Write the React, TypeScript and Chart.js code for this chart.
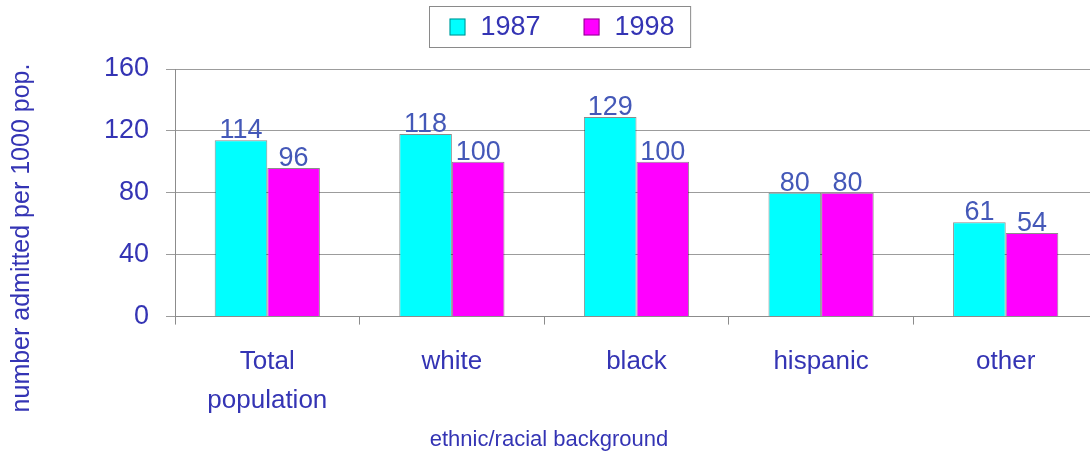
import React, { useEffect, useRef } from 'react';
import { Chart, registerables } from 'chart.js';

Chart.register(...registerables);

const categories: (string | string[])[] = [['Total', 'population'], 'white', 'black', 'hispanic', 'other'];
const seriesNames = ['1987', '1998'];
const values1987 = [114, 118, 129, 80, 61];
const values1998 = [96, 100, 100, 80, 54];
const yTicks = [0, 40, 80, 120, 160];
const xTitle = 'ethnic/racial background';
const yTitle = 'number admitted per 1000 pop.';

const FONT = "'Liberation Sans', Arial, Helvetica, sans-serif";
const TEXT_BLUE = '#3434b4';
const LABEL_BLUE = '#4458b8';
const CYAN = '#00ffff';
const MAGENTA = '#ff00ff';
const BAR_BORDER = 'rgba(0,0,0,0.45)';
const GRID = '#9c9c9c';

const valueLabels = {
  id: 'valueLabels',
  afterDatasetsDraw(chart: any) {
    const ctx = chart.ctx;
    ctx.save();
    ctx.font = `27px ${FONT}`;
    ctx.fillStyle = LABEL_BLUE;
    ctx.textAlign = 'center';
    ctx.textBaseline = 'alphabetic';
    chart.data.datasets.forEach((ds: any, i: number) => {
      const meta = chart.getDatasetMeta(i);
      meta.data.forEach((el: any, j: number) => {
        ctx.fillText(String(ds.data[j]), el.x, el.y - 2);
      });
    });
    ctx.restore();
  },
};

const boxedLegend = {
  id: 'boxedLegend',
  afterDraw(chart: any) {
    const ctx = chart.ctx;
    ctx.save();
    ctx.font = `27px ${FONT}`;
    const sq = 16;
    const gap = 15;
    const itemGap = 43;
    const padL = 20;
    const padR = 16;
    const items = chart.data.datasets.map((ds: any) => ({
      text: ds.label,
      color: ds.backgroundColor,
      w: ctx.measureText(ds.label).width,
    }));
    let content = 0;
    items.forEach((it: any, i: number) => {
      content += sq + gap + it.w + (i > 0 ? itemGap : 0);
    });
    const boxW = padL + content + padR;
    const cx = 560;
    const top = 6.5;
    const h = 41;
    const left = Math.round(cx - boxW / 2) + 0.5;
    ctx.strokeStyle = '#8a8a8a';
    ctx.lineWidth = 1;
    ctx.strokeRect(left, top, boxW, h);
    let x = left + padL;
    const midY = top + h / 2;
    items.forEach((it: any) => {
      ctx.fillStyle = it.color;
      ctx.fillRect(x, midY - 8.5, sq, 17);
      ctx.strokeStyle = BAR_BORDER;
      ctx.strokeRect(x + 0.5, midY - 8, sq - 1, 16);
      x += sq + gap;
      ctx.fillStyle = TEXT_BLUE;
      ctx.textAlign = 'left';
      ctx.textBaseline = 'middle';
      ctx.fillText(it.text, x, midY + 1);
      x += it.w + itemGap;
    });
    ctx.restore();
  },
};

const yAxisTitle = {
  id: 'yAxisTitle',
  afterDraw(chart: any) {
    const ctx = chart.ctx;
    ctx.save();
    ctx.translate(22, 238);
    ctx.rotate(-Math.PI / 2);
    ctx.font = `25px ${FONT}`;
    ctx.fillStyle = TEXT_BLUE;
    ctx.textAlign = 'center';
    ctx.textBaseline = 'middle';
    ctx.fillText(yTitle, 0, 0);
    ctx.restore();
  },
};

export default function App() {
  const canvasRef = useRef<HTMLCanvasElement | null>(null);

  useEffect(() => {
    if (!canvasRef.current) return;
    const chart = new Chart(canvasRef.current, {
      type: 'bar',
      data: {
        labels: categories as any,
        datasets: [
          {
            label: seriesNames[0],
            data: values1987,
            backgroundColor: CYAN,
            borderColor: BAR_BORDER,
            borderWidth: 1,
            categoryPercentage: 0.57,
            barPercentage: 1,
          },
          {
            label: seriesNames[1],
            data: values1998,
            backgroundColor: MAGENTA,
            borderColor: BAR_BORDER,
            borderWidth: 1,
            categoryPercentage: 0.57,
            barPercentage: 1,
          },
        ],
      },
      options: {
        animation: false,
        responsive: true,
        maintainAspectRatio: false,
        devicePixelRatio: 1,
        layout: { padding: { top: 69, right: 2, bottom: 0, left: 0 } },
        plugins: {
          legend: { display: false },
          tooltip: { enabled: false },
          title: {
            display: true,
            position: 'bottom',
            text: xTitle,
            color: TEXT_BLUE,
            font: { family: FONT, size: 22, weight: 'normal' as any },
            padding: { top: 13, bottom: 7 },
          },
        },
        scales: {
          x: {
            afterFit(scale: any) {
              scale.height = 97;
            },
            grid: {
              display: true,
              drawOnChartArea: false,
              drawTicks: true,
              tickLength: 8,
              color: '#8c8c8c',
              offset: true,
            },
            border: { display: true, color: '#8c8c8c' },
            ticks: {
              color: TEXT_BLUE,
              font: { family: FONT, size: 26, lineHeight: 1.5 },
              padding: 18,
              maxRotation: 0,
              autoSkip: false,
            },
          },
          y: {
            min: 0,
            max: 160,
            afterFit(scale: any) {
              scale.width = 175;
            },
            afterBuildTicks(scale: any) {
              scale.ticks = yTicks.map((v) => ({ value: v }));
            },
            grid: { color: GRID, tickLength: 9, drawTicks: true },
            border: { display: true, color: '#8c8c8c' },
            ticks: {
              color: TEXT_BLUE,
              font: { family: FONT, size: 27 },
              padding: 17,
            },
          },
        },
      },
      plugins: [valueLabels, boxedLegend, yAxisTitle],
    });
    return () => chart.destroy();
  }, []);

  return (
    <div style={{ position: 'fixed', left: 0, top: 0, width: 1100, height: 460, background: '#ffffff' }}>
      <canvas ref={canvasRef} />
    </div>
  );
}
